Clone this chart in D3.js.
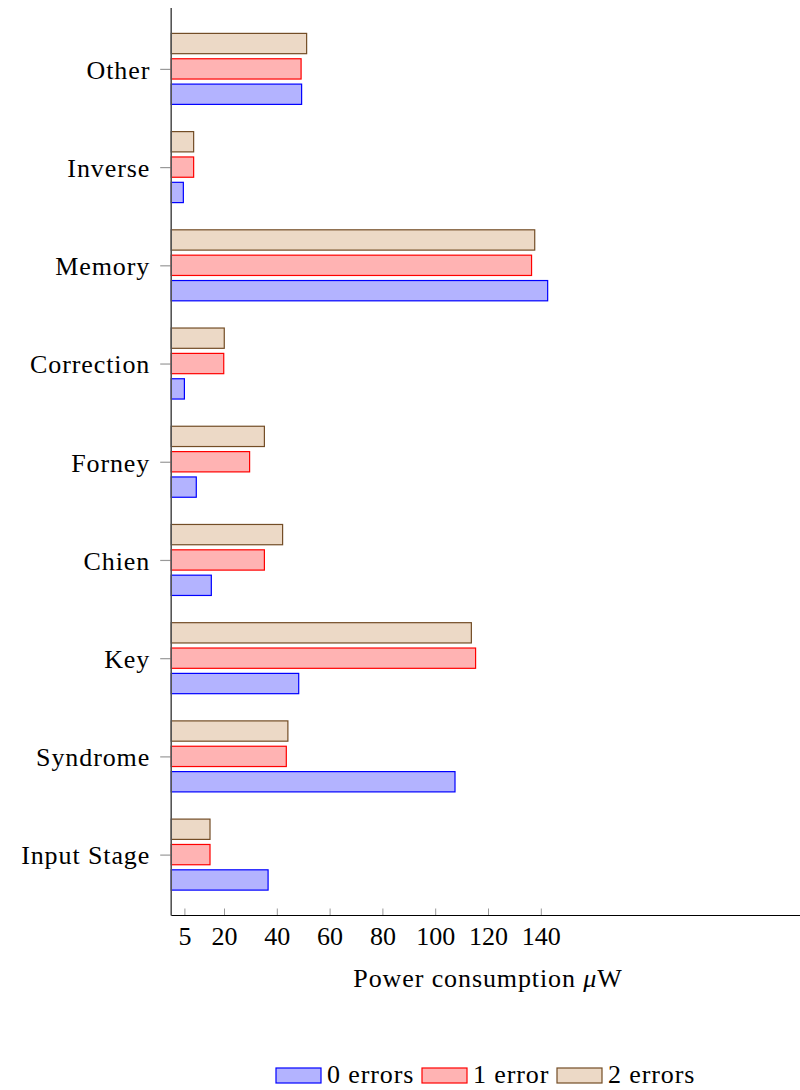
<!DOCTYPE html>
<html>
<head>
<meta charset="utf-8">
<script src="https://cdn.jsdelivr.net/npm/d3@7"></script>
<style>
  html, body { margin: 0; padding: 0; background: #fff; }
  svg { display: block; }
  text { font-family: "Liberation Serif", "Times New Roman", serif; fill: #000; }
  .wide { letter-spacing: 0.9px; }
</style>
</head>
<body>
<script>
// Power consumption per decoder block, in microwatts
const categories = ["Input Stage", "Syndrome", "Key", "Chien", "Forney", "Correction", "Memory", "Inverse", "Other"];
const errors0 = [36.7, 107.5, 48.3, 15.2, 9.5, 5.0, 142.6, 4.6, 49.4];
const errors1 = [14.7, 43.6, 115.3, 35.3, 29.7, 19.9, 136.5, 8.5, 49.2];
const errors2 = [14.7, 44.2, 113.7, 42.2, 35.3, 20.1, 137.7, 8.5, 51.3];
const seriesNames = ["0 errors", "1 error", "2 errors"];
const xTicks = [5, 20, 40, 60, 80, 100, 120, 140];
const xDomain = [0, 240];

const seriesStyle = {
  "0 errors": { fill: "#b3b3ff", stroke: "#0000ff" },
  "1 error":  { fill: "#ffb3b3", stroke: "#ff0000" },
  "2 errors": { fill: "#ecd9c6", stroke: "#734d26" }
};
const seriesValues = { "0 errors": errors0, "1 error": errors1, "2 errors": errors2 };

const W = 800, H = 1090;
const plotLeft = 171.2, plotBottom = 915.5, plotTop = 8;

const svg = d3.select("body").append("svg").attr("width", W).attr("height", H);

const x = d3.scaleLinear().domain(xDomain).range([plotLeft, plotLeft + 240 * 2.64]);
const y = d3.scalePoint().domain(categories).range([plotBottom, plotTop]).padding(0.62);
// order inside a group: 2 errors on top, 0 errors at the bottom
const inner = d3.scaleBand().domain(["2 errors", "1 error", "0 errors"]).range([-35.5, 35.5]).paddingInner(0.2);

const fontSize = 26;

// bars
const rows = [];
categories.forEach((c, i) => {
  seriesNames.forEach(s => rows.push({ cat: c, series: s, value: seriesValues[s][i] }));
});

svg.append("g").selectAll("rect").data(rows).join("rect")
  .attr("x", x(0))
  .attr("y", d => y(d.cat) + inner(d.series))
  .attr("width", d => x(d.value) - x(0))
  .attr("height", inner.bandwidth())
  .attr("fill", d => seriesStyle[d.series].fill)
  .attr("stroke", d => seriesStyle[d.series].stroke)
  .attr("stroke-width", 1.2);

// x axis
const xAxis = svg.append("g").attr("transform", `translate(0,${plotBottom})`)
  .call(d3.axisBottom(x).tickValues(xTicks).tickSize(0).tickPadding(0).tickFormat(d3.format("d")));
xAxis.select(".domain").remove();
xAxis.selectAll(".tick text").remove();
xAxis.selectAll(".tick").append("line")
  .attr("y1", -7).attr("y2", 0).attr("stroke", "#999").attr("stroke-width", 1);
xAxis.selectAll(".tick").append("text")
  .attr("y", 29.5)
  .attr("text-anchor", "middle")
  .style("font-size", fontSize + "px")
  .text(d => d);
svg.append("line")
  .attr("x1", plotLeft).attr("x2", W).attr("y1", plotBottom).attr("y2", plotBottom)
  .attr("stroke", "#000").attr("stroke-width", 1.2);

// y axis
const yAxis = svg.append("g").attr("transform", `translate(${plotLeft},0)`)
  .call(d3.axisLeft(y).tickSize(0).tickPadding(0));
yAxis.select(".domain").remove();
yAxis.selectAll(".tick text").remove();
yAxis.selectAll(".tick").append("line")
  .attr("x1", -11).attr("x2", 0).attr("stroke", "#999").attr("stroke-width", 1.2);
yAxis.selectAll(".tick").append("text")
  .attr("class", "wide")
  .attr("x", -21)
  .attr("dy", "0.36em")
  .attr("text-anchor", "end")
  .style("font-size", fontSize + "px")
  .text(d => d);
svg.append("line")
  .attr("x1", plotLeft).attr("x2", plotLeft).attr("y1", plotTop).attr("y2", plotBottom)
  .attr("stroke", "#555").attr("stroke-width", 1.6);

// axis title
const title = svg.append("text")
  .attr("class", "wide")
  .attr("x", (x.range()[0] + x.range()[1]) / 2)
  .attr("y", 987)
  .attr("text-anchor", "middle")
  .style("font-size", fontSize + "px");
title.append("tspan").text("Power consumption ");
title.append("tspan").style("font-style", "italic").text("μ");
title.append("tspan").text("W");

// legend
const legendItems = [
  { name: "0 errors", x: 276 },
  { name: "1 error", x: 422 },
  { name: "2 errors", x: 557 }
];
const legend = svg.append("g");
legendItems.forEach(item => {
  const g = legend.append("g").attr("transform", `translate(${item.x},1068)`);
  g.append("rect").attr("width", 45).attr("height", 15)
    .attr("fill", seriesStyle[item.name].fill)
    .attr("stroke", seriesStyle[item.name].stroke)
    .attr("stroke-width", 1.2);
  g.append("text").attr("class", "wide").attr("x", 51).attr("y", 15)
    .style("font-size", fontSize + "px")
    .text(item.name);
});
</script>
</body>
</html>
